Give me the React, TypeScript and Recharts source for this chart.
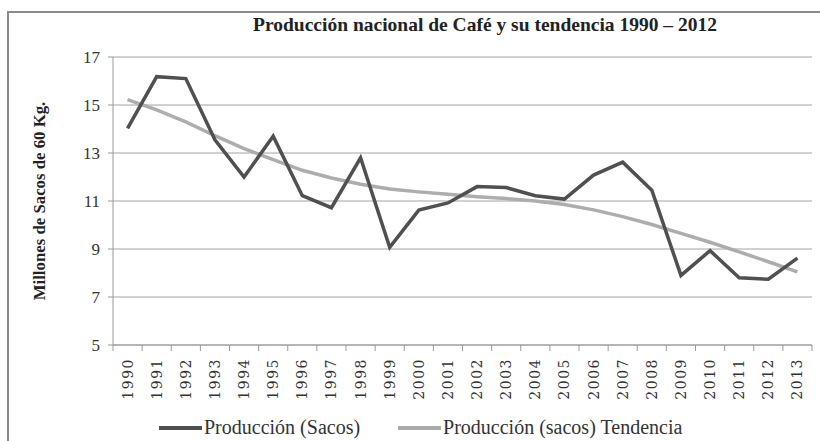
import React from "react";
import { LineChart, Line, XAxis, YAxis, CartesianGrid, Legend } from "recharts";

const years = [
  "1990", "1991", "1992", "1993", "1994", "1995", "1996", "1997",
  "1998", "1999", "2000", "2001", "2002", "2003", "2004", "2005",
  "2006", "2007", "2008", "2009", "2010", "2011", "2012", "2013",
];

const produccion = [
  14.03, 16.18, 16.1, 13.55, 12.0, 13.7, 11.22, 10.72, 12.8, 9.07, 10.62, 10.92,
  11.6, 11.56, 11.22, 11.08, 12.08, 12.62, 11.45, 7.9, 8.93, 7.8, 7.74, 8.62,
];

const tendencia = [
  15.22, 14.8, 14.3, 13.72, 13.18, 12.72, 12.28, 11.96, 11.7, 11.5, 11.38, 11.28,
  11.18, 11.1, 11.0, 10.85, 10.63, 10.35, 10.02, 9.65, 9.28, 8.88, 8.47, 8.05,
];

const yTicks = [5, 7, 9, 11, 13, 15, 17];

const data = years.map((year, i) => ({
  year,
  produccion: produccion[i],
  tendencia: tendencia[i],
}));

const SERIF = "'Liberation Serif', 'Times New Roman', serif";
const HALF_BAND = 14.55;

function YearTick(props: any) {
  const { x, y, payload, index } = props;
  return (
    <g transform={`translate(${x},${y})`}>
      <line x1={-HALF_BAND} x2={-HALF_BAND} y1={0} y2={6} stroke="#9a9a9a" />
      {index === years.length - 1 && (
        <line x1={HALF_BAND} x2={HALF_BAND} y1={0} y2={6} stroke="#9a9a9a" />
      )}
      <text
        transform="rotate(-90)"
        x={-13}
        y={0}
        dy={5}
        textAnchor="end"
        fill="#333"
        fontSize={14}
        letterSpacing={1.5}
        fontFamily="'DejaVu Serif', serif"
      >
        {payload.value}
      </text>
    </g>
  );
}

function LegendContent() {
  const items = [
    { label: "Producción (Sacos)", color: "#505050" },
    { label: "Producción (sacos) Tendencia", color: "#ababab" },
  ];
  return (
    <div style={{ display: "flex", alignItems: "center", fontFamily: SERIF, fontSize: 20, color: "#333" }}>
      {items.map((it) => (
        <div key={it.label} style={{ display: "flex", alignItems: "center", marginRight: 38 }}>
          <svg width={43} height={8} style={{ marginRight: 2 }}>
            <line x1={0} x2={43} y1={4} y2={4} stroke={it.color} strokeWidth={4} />
          </svg>
          <span>{it.label}</span>
        </div>
      ))}
    </div>
  );
}

export default function App() {
  return (
    <div style={{ position: "absolute", left: 0, top: 0, width: 820, height: 441, background: "#fff", overflow: "hidden" }}>
      <div
        style={{
          position: "absolute",
          left: 7,
          top: 11,
          width: 830,
          height: 440,
          borderTop: "2px solid #8a8a8a",
          borderLeft: "2px solid #8a8a8a",
        }}
      />
      <div
        style={{
          position: "absolute",
          left: 0,
          top: 14,
          width: 970,
          textAlign: "center",
          fontFamily: SERIF,
          fontWeight: "bold",
          fontSize: 19.5,
          color: "#222",
        }}
      >
        Producción nacional de Café y su tendencia 1990 – 2012
      </div>
      <LineChart
        width={820}
        height={441}
        data={data}
        margin={{ top: 57, right: 8, left: 0, bottom: 36 }}
      >
        <CartesianGrid stroke="#a3a3a3" vertical={false} />
        <XAxis
          dataKey="year"
          interval={0}
          height={60}
          padding={{ left: HALF_BAND, right: HALF_BAND }}
          tickLine={false}
          tickSize={0}
          tickMargin={0}
          axisLine={{ stroke: "#9a9a9a" }}
          tick={<YearTick />}
        />
        <YAxis
          width={113}
          domain={[5, 17]}
          ticks={yTicks}
          interval={0}
          tickSize={5}
          tickMargin={8}
          axisLine={{ stroke: "#9a9a9a" }}
          tickLine={{ stroke: "#9a9a9a" }}
          tick={{ fill: "#333", fontSize: 17, fontFamily: SERIF }}
          label={{
            value: "Millones de Sacos de 60 Kg.",
            angle: -90,
            position: "center",
            dx: -17,
            style: { fontFamily: SERIF, fontWeight: "bold", fontSize: 16.8, fill: "#222" },
          }}
        />
        <Legend
          layout="horizontal"
          verticalAlign="middle"
          align="center"
          content={<LegendContent />}
          wrapperStyle={{ top: 416, left: 159, width: 640 }}
        />
        <Line
          dataKey="tendencia"
          name="Producción (sacos) Tendencia"
          stroke="#adadad"
          strokeWidth={3.5}
          dot={false}
          isAnimationActive={false}
        />
        <Line
          dataKey="produccion"
          name="Producción (Sacos)"
          stroke="#505050"
          strokeWidth={3.5}
          strokeLinejoin="miter"
          dot={false}
          isAnimationActive={false}
        />
      </LineChart>
    </div>
  );
}
